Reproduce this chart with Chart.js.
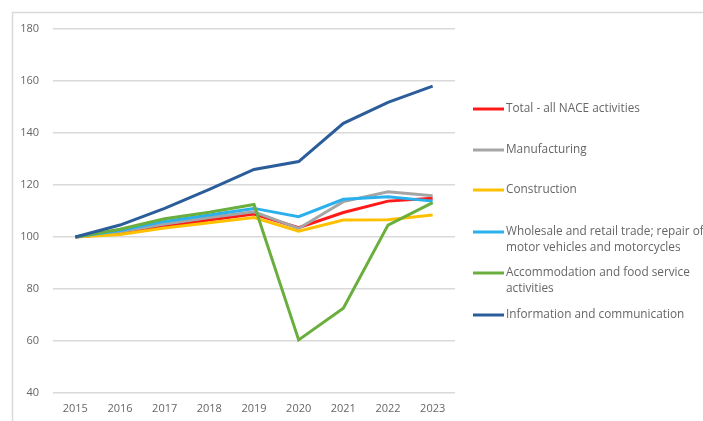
<!DOCTYPE html>
<html><head><meta charset="utf-8">
<script src="https://cdn.jsdelivr.net/npm/chart.js@4/dist/chart.umd.min.js"></script>
<style>html,body{margin:0;padding:0;background:#fff;}#wrap{width:703px;height:421px;position:relative;}</style>
</head><body><div id="wrap"><canvas id="c" width="703" height="421"></canvas></div>
<script>
const years = ['2015','2016','2017','2018','2019','2020','2021','2022','2023'];
const seriesNames = [
  ['Total - all NACE activities'],
  ['Manufacturing'],
  ['Construction'],
  ['Wholesale and retail trade; repair of','motor vehicles and motorcycles'],
  ['Accommodation and food service','activities'],
  ['Information and communication']
];
const total        = [100, 101.5, 104, 106.5, 108.8, 103.6, 109.4, 113.8, 114.9];
const manufacturing= [100, 102, 105, 107.5, 109.7, 103.3, 113.6, 117.4, 115.9];
const construction = [100, 101, 103.5, 105.5, 107.5, 102.2, 106.5, 106.6, 108.5];
const wholesale    = [100, 102.5, 106, 108.5, 111, 107.8, 114.5, 115.5, 113.8];
const accommodation= [100, 103, 107, 109.5, 112.5, 60.4, 72.6, 104.6, 113.2];
const infoComm     = [100, 104.6, 111, 118.3, 126, 129, 143.7, 151.8, 158];
const yTicks = [40, 60, 80, 100, 120, 140, 160, 180];
const colors = ['#ff1a1a','#a5a5a5','#ffc000','#2ab0ec','#6aaf3d','#2a5d9a'];
const values = [total, manufacturing, construction, wholesale, accommodation, infoComm];

const legendPos = [109, 150, 190, 232, 273, 315];
const FONT = '"Open Sans", "Liberation Sans", sans-serif';

const framePlugin = {
  id: 'frame',
  beforeDraw(chart) {
    const ctx = chart.ctx;
    ctx.save();
    ctx.fillStyle = '#fff';
    ctx.fillRect(0, 0, chart.width, chart.height);
    ctx.strokeStyle = '#d9d9d9';
    ctx.lineWidth = 1.5;
    ctx.beginPath();
    ctx.moveTo(12.5, 421);
    ctx.lineTo(12.5, 12.5);
    ctx.lineTo(703, 12.5);
    ctx.stroke();
    ctx.restore();
  },
  afterDraw(chart) {
    const ctx = chart.ctx;
    ctx.save();
    ctx.font = '11.8px ' + FONT;
    ctx.textBaseline = 'middle';
    chart.data.datasets.forEach((ds, i) => {
      const y = legendPos[i];
      ctx.strokeStyle = ds.borderColor;
      ctx.lineWidth = 3;
      ctx.beginPath();
      ctx.moveTo(473, y);
      ctx.lineTo(504, y);
      ctx.stroke();
      ctx.fillStyle = '#666666';
      seriesNames[i].forEach((line, k) => {
        ctx.fillText(line, 506, y + k * 16);
      });
    });
    ctx.restore();
  }
};

new Chart(document.getElementById('c'), {
  type: 'line',
  data: {
    labels: years,
    datasets: values.map((v, i) => ({
      label: seriesNames[i].join(' '),
      data: v,
      borderColor: colors[i],
      backgroundColor: colors[i],
      borderWidth: 3,
      pointRadius: 0,
      tension: 0,
      fill: false,
      order: values.length - 1 - i
    }))
  },
  options: {
    responsive: false,
    animation: false,
    layout: { padding: { left: 12, right: 248, top: 29, bottom: 0 } },
    plugins: { legend: { display: false }, tooltip: { enabled: false } },
    scales: {
      x: {
        offset: true,
        grid: { display: false, drawTicks: false },
        border: { display: false },
        ticks: { color: '#666666', font: { family: FONT, size: 11 }, padding: 9, maxRotation: 0 },
        afterFit(s) { s.height = 28; }
      },
      y: {
        min: 40, max: 180,
        afterBuildTicks(s) { s.ticks = yTicks.map(v => ({ value: v })); },
        grid: { color: '#d9d9d9', lineWidth: 1.5, drawTicks: false },
        border: { display: false },
        ticks: { color: '#666666', font: { family: FONT, size: 11 }, padding: 14 },
        afterFit(s) { s.width = 41; }
      }
    }
  },
  plugins: [framePlugin]
});
</script>
</body></html>
